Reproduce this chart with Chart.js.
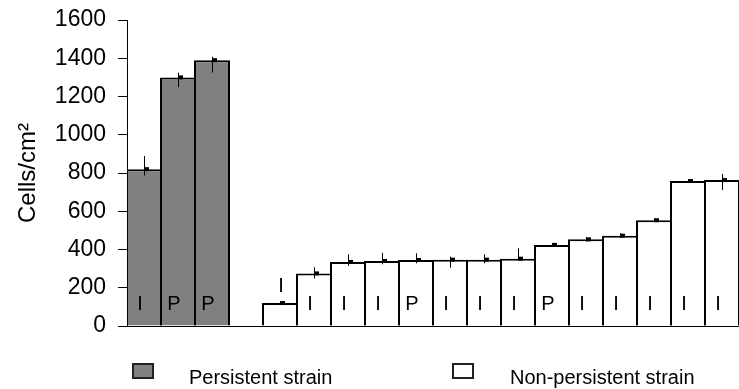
<!DOCTYPE html>
<html>
<head>
<meta charset="utf-8">
<script src="https://cdn.jsdelivr.net/npm/chart.js@4.4.1/dist/chart.umd.min.js"></script>
<style>
  body{margin:0;background:#fff;font-family:"Liberation Sans",Arial,sans-serif;}
  .wrap{position:relative;width:739px;height:389px;overflow:hidden;}
  .leg-box{position:absolute;top:363px;width:18px;height:12px;border:2px solid #222;}
  .leg-txt{position:absolute;top:366px;font-size:20px;line-height:22px;color:#000;white-space:nowrap;}
</style>
</head>
<body>
<div class="wrap">
  <canvas id="c" width="739" height="389"></canvas>
  <div class="leg-box" style="left:132px;background:#808080"></div>
  <div class="leg-txt" style="left:189px">Persistent strain</div>
  <div class="leg-box" style="left:452px;background:#fff"></div>
  <div class="leg-txt" style="left:510px">Non-persistent strain</div>
</div>
<script>
// data (index 3 is the empty gap between the two groups)
const categories = ['', '', '', '', '', '', '', '', '', '', '', '', '', '', '', '', '', ''];
const cellCounts = [820, 1300, 1390, null, 120, 275, 335, 340, 345, 347, 347, 352, 424, 453, 472, 553, 758, 763];
const errHigh    = [889, 1325, 1408, null, 124, 307, 375, 383, 380, 362, 375, 406, 432, 465, 485, 562, 762, 795];
const errLow     = [787, 1249, 1325, null, 116, 249, 314, 323, 328, 305, 328, 345, 418, 442, 460, 545, 755, 711];
const strainType = ['I', 'P', 'P', '', 'I', 'I', 'I', 'I', 'P', 'I', 'I', 'I', 'P', 'I', 'I', 'I', 'I', 'I'];
const persistent = [true, true, true, false, false, false, false, false, false, false, false, false, false, false, false, false, false, false];
const yTicks = [0, 200, 400, 600, 800, 1000, 1200, 1400, 1600];

const FONT = '"Liberation Sans", Arial, sans-serif';

// error bars + I/P letters
const extras = {
  id: 'extras',
  afterDatasetsDraw(chart){
    const ctx = chart.ctx;
    const y = chart.scales.y;
    const meta = chart.getDatasetMeta(0);
    ctx.save();
    meta.data.forEach((bar, i)=>{
      if(cellCounts[i] == null) return;
      const x = bar.x;
      ctx.strokeStyle = '#000';
      ctx.lineWidth = 1;
      ctx.beginPath();
      ctx.moveTo(x + 0.5, y.getPixelForValue(errHigh[i]));
      ctx.lineTo(x + 0.5, y.getPixelForValue(errLow[i]));
      ctx.stroke();
      ctx.fillStyle = '#000';
      ctx.fillRect(x, y.getPixelForValue(cellCounts[i]) - 2, 5, 4);

      // strain letter (above the bar when it is too short)
      ctx.font = '20px ' + FONT;
      ctx.textAlign = 'center';
      ctx.textBaseline = 'middle';
      let ly = y.getPixelForValue(120);
      let lx = x - 4;
      if(cellCounts[i] < 200){ ly = y.getPixelForValue(cellCounts[i] + 90); lx = x + 1; }
      ctx.fillText(strainType[i], lx, ly + 1);
    });
    ctx.restore();
  }
};

new Chart(document.getElementById('c'), {
  type: 'bar',
  data: {
    labels: categories,
    datasets: [{
      data: cellCounts,
      backgroundColor: persistent.map(p=> p ? '#808080' : '#ffffff'),
      borderColor: '#000',
      borderWidth: 2,
      borderSkipped: 'bottom',
      barPercentage: 36/34,
      categoryPercentage: 1
    }]
  },
  options: {
    responsive: false,
    animation: false,
    layout: {padding: {left: 0, right: 0, top: 20, bottom: 55}},
    plugins: {legend: {display: false}, tooltip: {enabled: false}},
    scales: {
      x: {
        grid: {display: false},
        ticks: {display: false},
        border: {display: true, color: '#000', width: 1}
      },
      y: {
        min: 0, max: 1600,
        afterBuildTicks: s=>{ s.ticks = yTicks.map(v=>({value: v})); },
        afterFit: s=>{ s.width = 127; s.paddingTop = 0; s.paddingBottom = 0; },
        grid: {drawOnChartArea: false, drawTicks: true, tickLength: 9, color: '#000'},
        border: {display: true, color: '#000', width: 1},
        ticks: {color: '#000', padding: 12, font: {family: FONT, size: 23}, callback: v=> String(v)},
        title: {display: true, text: 'Cells/cm²', color: '#000', font: {family: FONT, size: 24}, padding: {top: 14, bottom: 0}}
      }
    }
  },
  plugins: [extras]
});
</script>
</body>
</html>
